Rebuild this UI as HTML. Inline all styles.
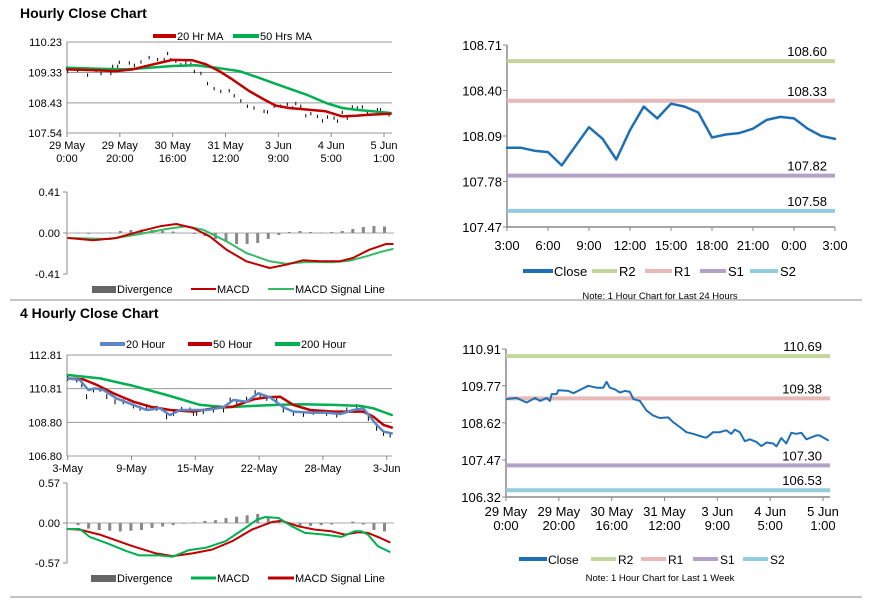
<!DOCTYPE html>
<html><head><meta charset="utf-8"><style>
html,body{margin:0;padding:0;background:#fff;}
svg{display:block;font-family:"Liberation Sans",sans-serif;}
</style></head><body>
<svg id="chart" width="873" height="601" viewBox="0 0 873 601" xmlns="http://www.w3.org/2000/svg">
<text x="20" y="18" font-size="14" font-weight="bold">Hourly Close Chart</text>
<text x="20" y="318" font-size="14" font-weight="bold">4 Hourly Close Chart</text>
<line x1="10" y1="300" x2="862" y2="300" stroke="#888" stroke-width="1"/>
<line x1="10" y1="597" x2="862" y2="597" stroke="#888" stroke-width="1"/>
</svg>
<script>
// ---- Hourly close (last 1 week) ----
const hourlyHours = [0.25,4.0,7.8,11,12.9,15.4,16.6,17.3,19.2,19.8,23.6,25.5,28,31.1,34.3,36.8,38.1,39.3,41.2,43.1,45,46.9,48.2,50.7,53.2,55.7,58.2,61.4,63.3,65.8,68.3,70.8,74.6,75.9,78.4,80.9,83.4,85.3,86.6,88.5,90.4,92.3,94.8,96.7,98.6,101.1,102.4,104.2,106.1,108,109.9,111.8,113.7,117.5,118.7,121.9];
const hourlyClose = [109.36,109.39,109.25,109.39,109.30,109.39,109.30,109.51,109.51,109.63,109.61,109.54,109.64,109.77,109.71,109.71,109.89,109.71,109.66,109.56,109.61,109.58,109.36,109.30,109.00,108.85,108.77,108.79,108.64,108.49,108.33,108.28,108.18,108.16,108.33,108.33,108.39,108.28,108.41,108.33,108.05,108.11,108.03,107.90,108.01,107.98,107.89,108.15,107.98,108.31,108.28,108.31,108.11,108.23,108.23,108.08];
const ma20Hours = [0,12.2,18.5,24.8,31.1,39.9,47.5,52.6,57.6,62.7,69.0,75.3,79.0,84.1,91.6,97.9,104.2,109.3,114.3,122.5];
const ma20Values = [109.42,109.39,109.37,109.42,109.54,109.70,109.69,109.57,109.37,109.12,108.78,108.50,108.35,108.28,108.23,108.18,108.03,108.05,108.08,108.11];
const ma50Hours = [0,12.2,22.3,31.1,39.9,48.8,56.4,65.2,72.8,81.6,90.4,98.0,104.2,109.3,115.6,122.5];
const ma50Values = [109.47,109.44,109.42,109.47,109.52,109.54,109.47,109.37,109.17,108.92,108.68,108.43,108.28,108.23,108.18,108.13];
const hourlyXTicks = [0,20,40,60,80,100,120];
const hourlyXLabels1 = ["29 May","29 May","30 May","31 May","3 Jun","4 Jun","5 Jun"];
const hourlyXLabels2 = ["0:00","20:00","16:00","12:00","9:00","5:00","1:00"];
const hourlyYTicks = [110.23,109.33,108.43,107.54];
// hourly MACD
const macdHours = [0.3,9.7,18.5,27.4,35,41.2,47.5,53.8,60.2,67.7,76.5,82.8,89.1,95.4,103,108,114.3,120.6,123.1];
const macdValues = [-0.05,-0.073,-0.05,0.017,0.067,0.09,0.05,-0.033,-0.167,-0.283,-0.35,-0.317,-0.273,-0.283,-0.283,-0.25,-0.167,-0.11,-0.11];
const signalHours = [0.3,16,27.4,37.4,45,51.3,60.2,67.7,76.5,82.8,90.4,100.5,106.8,113.1,119.4,123.1];
const signalValues = [-0.05,-0.06,-0.01,0.04,0.067,0.033,-0.083,-0.2,-0.283,-0.307,-0.29,-0.293,-0.277,-0.233,-0.183,-0.16];
const divHours = [0,4,8,12,16,20,24,28,32,36,40,44,48,52,56,60,64,68,72,76,80,84,88,92,96,100,104,108,112,116,120];
const divValues = [0,-0.005,-0.01,-0.005,0.005,0.02,0.03,0.035,0.03,0.02,0.015,0,-0.01,-0.03,-0.06,-0.09,-0.11,-0.11,-0.1,-0.06,-0.02,0.01,0.02,0.01,0.005,0.01,0.02,0.04,0.06,0.07,0.065];
const macdYTicks = [0.41,0,-0.41];
const macdYLabels = ["0.41","0.00","-0.41"];
// ---- 24h chart ----
const dayClose = [108.01,108.01,107.99,107.98,107.89,108.02,108.15,108.07,107.93,108.13,108.29,108.21,108.31,108.29,108.25,108.08,108.10,108.11,108.14,108.20,108.22,108.21,108.14,108.09,108.07];
const dayXLabels = ["3:00","6:00","9:00","12:00","15:00","18:00","21:00","0:00","3:00"];
const dayYTicks = [108.71,108.40,108.09,107.78,107.47];
const dayLevels = [108.60,108.33,107.82,107.58];
const weekLevels = [110.69,109.38,107.30,106.53];
const weekYTicks = [110.91,109.77,108.62,107.47,106.32];
const levelNames = ["R2","R1","S1","S2"];
// ---- 4 hourly ----
const fourPeriods = [0,3.4,5.3,7.1,9.7,12.2,14.7,17.8,20.9,24.7,27.2,29.7,33.5,37.2,39.8,42.9,46,47.3,48.5,51,54.8,58.6,61.1,63.6,67.3,70.5,72.4,74.9,78.6,81.1,84.9,88.7,92.4,97.4,101.2,105,108.7,111.2,113.1,116.2,118.8,121.3];
const fourClose = [111.42,111.32,111.03,110.33,110.73,110.77,110.33,110.03,110.03,109.78,109.64,109.74,109.64,109.14,109.34,109.58,109.54,109.34,109.34,109.44,109.54,109.54,110.13,110.03,110.17,110.57,110.43,110.23,110.13,109.54,109.34,109.28,109.40,109.34,109.24,109.54,109.74,109.54,109.04,108.45,108.15,108.05];
const ma20hPeriods = [0,4.6,7.8,10.3,13.4,18.4,24.7,29.7,34.7,38.5,42.3,47.3,52.3,58.6,62.3,67.3,71.7,76.1,81.1,84.9,91.2,97.4,102.5,107.5,111.2,113.7,116.2,118.8,121.9];
const ma20hValues = [111.42,111.32,110.73,110.83,110.73,110.23,109.84,109.54,109.64,109.24,109.54,109.54,109.54,109.70,110.13,110.03,110.53,110.29,109.70,109.44,109.38,109.38,109.30,109.54,109.64,109.14,108.65,108.25,108.15];
const ma50hPeriods = [0,5.9,10.9,17.2,24.7,31,38.5,47.3,54.8,62.3,69.8,74.9,79.9,84.9,91.2,99.9,107.5,111.2,115,118.8,121.9];
const ma50hValues = [111.42,111.36,111.03,110.53,110.03,109.74,109.54,109.44,109.64,109.74,110.17,110.29,110.33,109.84,109.54,109.44,109.44,109.44,109.14,108.65,108.49];
const ma200hPeriods = [0,12.2,24.7,37.2,49.8,59.8,69.8,78.6,87.4,99.9,110,115,121.9];
const ma200hValues = [111.62,111.42,110.97,110.43,109.84,109.70,109.78,109.84,109.88,109.84,109.78,109.64,109.24];
const fourXTicks = [0,24,48,72,96,120];
const fourXLabels = ["3-May","9-May","15-May","22-May","28-May","3-Jun"];
const fourYTicks = [112.81,110.81,108.80,106.80];
const fMacdPeriods = [0,4.6,8.4,14.7,22.3,27.2,34.7,39.8,46,52.3,59.8,67.3,71.7,74.9,79.9,84.9,89.9,97.4,103.7,108.7,111.2,113.7,117.5,121.9];
const fMacdValues = [-0.085,-0.085,-0.198,-0.283,-0.40,-0.462,-0.462,-0.48,-0.386,-0.353,-0.259,-0.071,0.047,0.085,0.071,-0.047,-0.141,-0.165,-0.198,-0.118,-0.118,-0.165,-0.33,-0.41];
const fSignalPeriods = [0,4.6,12.2,24.7,33.5,39.8,47.3,54.8,62.3,69.8,77.4,81.1,87.4,93.7,99.9,105,110,113.7,117.5,121.9];
const fSignalValues = [-0.085,-0.094,-0.165,-0.33,-0.433,-0.471,-0.433,-0.377,-0.259,-0.094,0.014,0.033,-0.047,-0.094,-0.118,-0.165,-0.132,-0.141,-0.198,-0.273];
const fDivPeriods = [0,4,8,12,16,20,24,28,32,36,40,44,48,52,56,60,64,68,72,76,80,84,88,92,96,100,104,108,112,116,120];
const fDivValues = [0,-0.03,-0.08,-0.1,-0.11,-0.12,-0.11,-0.1,-0.07,-0.05,-0.03,-0.01,0.01,0.03,0.04,0.07,0.09,0.11,0.13,0.08,0.02,-0.03,-0.05,-0.04,-0.03,-0.02,0,0.02,-0.02,-0.1,-0.12];
const fMacdYTicks = [0.57,0,-0.57];
const fMacdYLabels = ["0.57","0.00","-0.57"];

const NS = "http://www.w3.org/2000/svg";
const svg = document.getElementById('chart');
function el(tag, attrs, parent){
  const e = document.createElementNS(NS, tag);
  for (const k in attrs) e.setAttribute(k, attrs[k]);
  (parent || svg).appendChild(e);
  return e;
}
function lin(d0,d1,r0,r1){ return v => r0 + (v-d0)/(d1-d0)*(r1-r0); }
function txt(x,y,s,anchor,size,parent){
  const t = el('text',{x:x,y:y,'font-size':size||11,'text-anchor':anchor||'start',fill:'#000'},parent);
  t.textContent = s;
  return t;
}
function poly(xs, ys, sx, sy, color, w, g){
  const pts = xs.map((h,i)=> sx(h).toFixed(1)+','+sy(ys[i]).toFixed(1)).join(' ');
  return el('polyline',{points:pts,fill:'none',stroke:color,'stroke-width':w,'stroke-linejoin':'round','stroke-linecap':'round'},g);
}
function legendLine(x1,x2,y,color,w,label,g){
  const l = el('line',{x1:x1,y1:y,x2:x2,y2:y,stroke:color,'stroke-width':w},g);
  
  
  const t = txt(x2+1,y+4,label,'start',11,g);
  
  
}
function legendBox(x1,x2,y,label,g){
  const r = el('rect',{x:x1,y:y-3,width:x2-x1,height:7,fill:'#666'},g);
  
  
  const t = txt(x2+1,y+4,label,'start',11,g);
  
  
}

// ===== Panel A: hourly price =====
(function(){
  const g = el('g',{});  
  const x = lin(0,120,67,384), y = lin(110.23,107.54,42,133);
  hourlyYTicks.forEach(v=>{
    const gl = el('line',{x1:67,y1:y(v),x2:392,y2:y(v),stroke:'#999','stroke-width':1},g);
     
    const t = txt(62,y(v)+4,v.toFixed(2),'end',11,g);
     
  });
  const ax = el('line',{x1:67,y1:42,x2:67,y2:133,stroke:'#888'},g);
   
  hourlyXTicks.forEach((h,i)=>{
    const tk = el('line',{x1:x(h),y1:133,x2:x(h),y2:137,stroke:'#888'},g);
     
    const t1 = txt(x(h),149,hourlyXLabels1[i],'middle',11,g);
     
    const t2 = txt(x(h),162,hourlyXLabels2[i],'middle',11,g);
     
  });
  hourlyHours.forEach((h,i)=>{
    const b = el('line',{x1:x(h),y1:y(hourlyClose[i]+0.05),x2:x(h),y2:y(hourlyClose[i]-0.05),stroke:'#000','stroke-width':1},g);
     
  });
  const p1 = poly(ma50Hours,ma50Values,x,y,'#00b050',2.5,g);
   
  const p2 = poly(ma20Hours,ma20Values,x,y,'#c00000',2.5,g);
   
  legendLine(153,176,36,'#c00000',4,'20 Hr MA',g);
  legendLine(233,259,36,'#00b050',4,'50 Hrs MA',g);
})();

// ===== MACD panel helper =====
function macdPanel(name, top, mid, bot, maxV, yTicks, yLabels, divX, divY, aX, aY, aColor, bX, bY, bColor, scaleMax){
  const g = el('g',{});  
  const x = lin(0,120,67.5,384.5), y = lin(maxV,-maxV,top,bot);
  const ax = el('line',{x1:67,y1:top,x2:67,y2:bot,stroke:'#888'},g);
   
  yTicks.forEach((v,i)=>{
    const tk = el('line',{x1:63,y1:y(v),x2:67,y2:y(v),stroke:'#888'},g);
     
    const t = txt(60,y(v)+4,yLabels[i],'end',11,g);
     
  });
  const z = el('line',{x1:67,y1:y(0),x2:394,y2:y(0),stroke:'#aaa'},g);
   
  divX.forEach((h,i)=>{
    const v = divY[i];
    const r = el('rect',{x:x(h)-1.5,y:Math.min(y(0),y(v)),width:3,height:Math.abs(y(v)-y(0)),fill:'#888'},g);
     
  });
  const l1 = poly(bX,bY,x,y,bColor,2,g);
   
  const l2 = poly(aX,aY,x,y,aColor,2,g);
   
  return g;
}
const gB = macdPanel('hourly-macd-panel',192,233,274,0.41,macdYTicks,macdYLabels,divHours,divValues,macdHours,macdValues,'#c00000',signalHours,signalValues,'#33bb66');
legendBox(92,116,289,'Divergence',gB);
legendLine(191,216,289,'#c00000',2,'MACD',gB);
legendLine(268,294,289,'#33bb66',2,'MACD Signal Line',gB);

// ===== Panel E: 4-hourly price =====
(function(){
  const g = el('g',{});  
  const x = lin(0,120,67.7,386.7), y = lin(112.81,106.80,355,456);
  fourYTicks.forEach(v=>{
    const gl = el('line',{x1:67,y1:y(v),x2:392,y2:y(v),stroke:'#999'},g);
     
    const t = txt(62,y(v)+4,v.toFixed(2),'end',11,g);
     
  });
  const ax = el('line',{x1:67,y1:355,x2:67,y2:456,stroke:'#888'},g);
   
  fourXTicks.forEach((p,i)=>{
    const tk = el('line',{x1:x(p),y1:456,x2:x(p),y2:460,stroke:'#888'},g);
     
    const t = txt(x(p),472,fourXLabels[i],'middle',11,g);
     
  });
  fourPeriods.forEach((p,i)=>{
    const b = el('line',{x1:x(p),y1:y(fourClose[i]+0.15),x2:x(p),y2:y(fourClose[i]-0.15),stroke:'#000','stroke-width':1},g);
     
  });
  const a = poly(ma200hPeriods,ma200hValues,x,y,'#00b050',2.5,g);
   
  const b = poly(ma50hPeriods,ma50hValues,x,y,'#c00000',2.5,g);
   
  const c = poly(ma20hPeriods,ma20hValues,x,y,'#5b87c5',2.5,g);
   
  legendLine(100,125,344,'#5b87c5',4,'20 Hour',g);
  legendLine(188,212,344,'#c00000',4,'50 Hour',g);
  legendLine(275,300,344,'#00b050',4,'200 Hour',g);
})();

const gF = macdPanel('four-hourly-macd-panel',483,523,563,0.57,fMacdYTicks,fMacdYLabels,fDivPeriods,fDivValues,fMacdPeriods,fMacdValues,'#00b050',fSignalPeriods,fSignalValues,'#c00000');
legendBox(91,116,578,'Divergence',gF);
legendLine(191,216,578,'#00b050',3,'MACD',gF);
legendLine(268,294,578,'#c00000',3,'MACD Signal Line',gF);

// ===== Levels panels =====
const levelColors = ['#c3d69b','#e6b9b8','#b3a2c7','#93cddd'];
function levelPanel(name, top, bot, x0, x1, yTop, yBot, yTicks, levels, legendY, noteY, note){
  const g = el('g',{});  
  const y = lin(yTop,yBot,top,bot);
  const ax = el('line',{x1:x0,y1:top,x2:x0,y2:bot,stroke:'#888','stroke-width':1.5},g);
   
  const bx = el('line',{x1:x0,y1:bot,x2:x1,y2:bot,stroke:'#888','stroke-width':1.5},g);
   
  yTicks.forEach(v=>{
    const tk = el('line',{x1:x0-4,y1:y(v),x2:x0,y2:y(v),stroke:'#888'},g);
     
    const t = txt(x0-5,y(v)+5,v.toFixed(2),'end',13,g);
     
  });
  levels.forEach((v,i)=>{
    const l = el('line',{x1:x0,y1:y(v),x2:x1,y2:y(v),stroke:levelColors[i],'stroke-width':4},g);
     
    const t = txt(x1-8,y(v)-5,v.toFixed(2),'end',13,g);
     
  });
  const n = txt(660,noteY,note,'middle',9.5,g);
   
  return {g:g,y:y};
}
// Panel C
(function(){
  const P = levelPanel('day-levels-panel',45,227,507,835,108.71,107.47,dayYTicks,dayLevels,271,299,'Note: 1 Hour Chart for Last 24 Hours');
  const x = lin(0,24,507,835);
  dayXLabels.forEach((s,i)=>{
    const tk = el('line',{x1:x(i*3),y1:227,x2:x(i*3),y2:231,stroke:'#888'},P.g);
     
    const t = txt(x(i*3),250,s,'middle',13,P.g);
     
  });
  const idx = dayClose.map((v,i)=>i);
  const c = poly(idx,dayClose,x,P.y,'#1f6fb5',2.5,P.g);
   
  legendLine(523,553,271,'#1f6fb5',4,'',P.g);
  const lt = txt(554,276,'Close','start',13,P.g);  
  const lx = [[592,617],[645,672],[700,726],[750,778]];
  levelNames.forEach((nm,i)=>{
    legendLine(lx[i][0],lx[i][1],271,levelColors[i],4,'',P.g);
    const t = txt(lx[i][1]+2,276,nm,'start',13,P.g);
     
  });
})();
// Panel D
(function(){
  const P = levelPanel('week-levels-panel',349,497,506,830,110.91,106.32,weekYTicks,weekLevels,559,581,'Note: 1 Hour Chart for Last 1 Week');
  const x = lin(0,120,506,823);
  hourlyXTicks.forEach((h,i)=>{
    const tk = el('line',{x1:x(h),y1:497,x2:x(h),y2:501,stroke:'#888'},P.g);
     
    const t1 = txt(x(h),516,hourlyXLabels1[i],'middle',13,P.g);
     
    const t2 = txt(x(h),530,hourlyXLabels2[i],'middle',13,P.g);
     
  });
  const c = poly(hourlyHours,hourlyClose,x,P.y,'#1f6fb5',2,P.g);
   
  legendLine(519,547,559,'#1f6fb5',4,'',P.g);
  const lt = txt(548,564,'Close','start',12,P.g);  
  const lx = [[591,616],[641,666],[693,718],[743,768]];
  levelNames.forEach((nm,i)=>{
    legendLine(lx[i][0],lx[i][1],559,levelColors[i],4,'',P.g);
    const t = txt(lx[i][1]+2,564,nm,'start',12,P.g);
     
  });
})();
</script>
</body></html>
